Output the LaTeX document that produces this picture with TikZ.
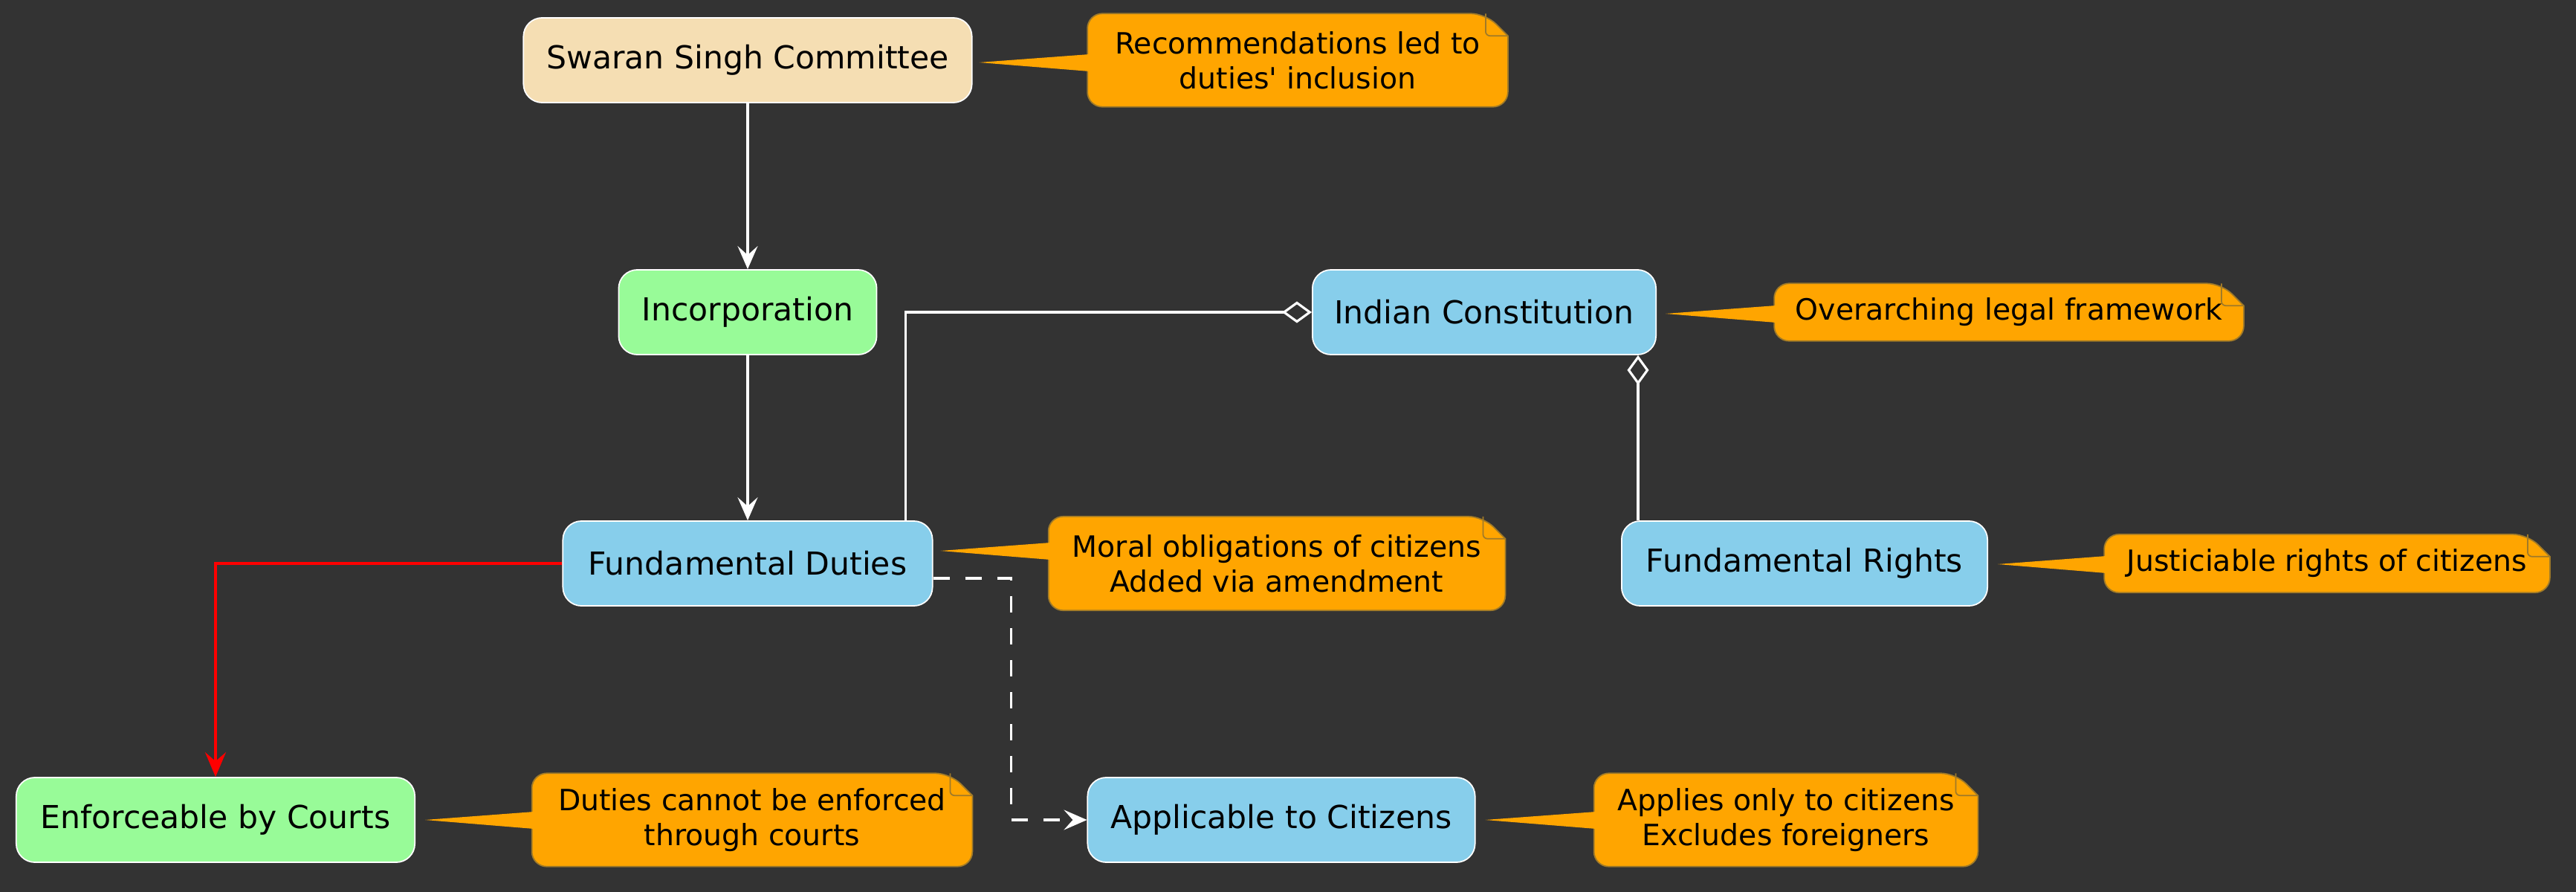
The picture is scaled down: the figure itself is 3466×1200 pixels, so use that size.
\documentclass[tikz,border=0pt]{standalone}
\usepackage{fontspec}
\setmainfont{DejaVu Sans}
\usetikzlibrary{arrows.meta,calc}
\definecolor{bgc}{HTML}{333333}
\definecolor{wheatc}{HTML}{F5DEB3}
\definecolor{greenc}{HTML}{98FB98}
\definecolor{bluec}{HTML}{87CEEB}
\definecolor{notec}{HTML}{FFA500}
\definecolor{noteedge}{HTML}{A07A28}
\definecolor{redc}{HTML}{FF0000}
\pgfdeclarelayer{back}\pgfdeclarelayer{mid}\pgfsetlayers{back,mid,main}
\tikzset{
 box/.style={draw=white, line width=0.5pt, rounded corners=0.25cm, minimum height=1.14cm, inner sep=0pt, font=\fontsize{12.1}{14.5}\selectfont, text=black},
 notetext/.style={inner sep=0pt, align=center, font=\fontsize{11.2}{13.4}\selectfont, text=black},
 noteshape/.style={fill=notec, draw=noteedge, line width=0.5pt},
 conn/.style={draw=white, line width=0.9pt},
 flow/.style={conn, -{Stealth[length=0.31cm,width=0.27cm,inset=0.12cm]}},
 redflow/.style={draw=redc, line width=1.1pt, -{Stealth[length=0.33cm,width=0.28cm,inset=0.12cm]}},
 dashflow/.style={conn, dash pattern=on 0.22cm off 0.21cm, -{Stealth[length=0.31cm,width=0.27cm,inset=0.12cm]}},
 agg/.style={conn, {Diamond[open,length=0.4cm,width=0.29cm]}-},
}
\newcommand\drawnote[2]{%
 \draw[noteshape] (#1.west)
   [rounded corners=0.2cm] -- (#1.north west) -- ($(#1.north east)+(-30,0)$)
   [sharp corners] -- ($(#1.north east)+(0,30)$)
   [rounded corners=0.2cm] -- (#1.south east) -- (#1.south west) [sharp corners] -- cycle;
 \draw[draw=noteedge, line width=0.5pt, rounded corners=0.06cm] ($(#1.north east)+(-30,0)$) -- ($(#1.north east)+(-30,30)$) -- ($(#1.north east)+(0,30)$);
 \fill[notec] ($(#1.west |- #2)+(3,12)$) -- (#2) -- ($(#1.west |- #2)+(3,-11)$) -- cycle;
}
\begin{document}
\begin{tikzpicture}[x=0.01cm,y=-0.01cm]
\begin{pgfonlayer}{back}
\fill[bgc] (0,0) rectangle (3466,1200);
\end{pgfonlayer}
\useasboundingbox (0,0) rectangle (3466,1200);

% main nodes
\node[box, fill=wheatc, minimum width=6.03cm] (swaran) at (1006,81) {Swaran Singh Committee};
\node[box, fill=greenc, minimum width=3.47cm] (incorp) at (1006,420) {Incorporation};
\node[box, fill=bluec, minimum width=4.97cm] (duties) at (1006,758) {Fundamental Duties};
\node[box, fill=bluec, minimum width=4.62cm] (ic) at (1997,420) {Indian Constitution};
\node[box, fill=bluec, minimum width=4.92cm] (rights) at (2428,758) {Fundamental Rights};
\node[box, fill=greenc, minimum width=5.36cm] (enforce) at (290,1103) {Enforceable by Courts};
\node[box, fill=bluec, minimum width=5.21cm] (applic) at (1724,1103) {Applicable to Citizens};

% notes
\node[notetext, minimum width=5.64cm, minimum height=1.24cm] (n1) at (1746,81) {Recommendations led to\\duties\textquotesingle{} inclusion};
\node[notetext, minimum width=6.30cm, minimum height=0.76cm] (n2) at (2703,420) {Overarching legal framework};
\node[notetext, minimum width=6.13cm, minimum height=1.25cm] (n3) at (1718,758) {Moral obligations of citizens\\Added via amendment};
\node[notetext, minimum width=5.98cm, minimum height=0.77cm] (n4) at (3131,758) {Justiciable rights of citizens};
\node[notetext, minimum width=5.91cm, minimum height=1.24cm] (n5) at (1012,1103) {Duties cannot be enforced\\through courts};
\node[notetext, minimum width=5.15cm, minimum height=1.24cm] (n6) at (2403,1103) {Applies only to citizens\\Excludes foreigners};

\coordinate (t1) at ($(swaran.east)+(9,3)$);
\coordinate (t2) at ($(ic.east)+(12,2)$);
\coordinate (t3) at ($(duties.east)+(10,-17)$);
\coordinate (t4) at ($(rights.east)+(13,1)$);
\coordinate (t5) at ($(enforce.east)+(13,0)$);
\coordinate (t6) at ($(applic.east)+(13,0)$);

\begin{pgfonlayer}{mid}
\drawnote{n1}{t1}
\drawnote{n2}{t2}
\drawnote{n3}{t3}
\drawnote{n4}{t4}
\drawnote{n5}{t5}
\drawnote{n6}{t6}
\end{pgfonlayer}

% connectors
\draw[flow] (swaran) -- (incorp);
\draw[flow] (incorp) -- (duties);
\coordinate (dtop) at ($(duties.north east)+(-37,0)$);
\draw[agg] (ic.west) -| (dtop);
\coordinate (rtop) at ($(rights.north west)+(23,0)$);
\draw[agg] (ic.south -| rtop) -- (rtop);
\draw[redflow] (duties.west) -| (enforce.north);
\coordinate (dstart) at ($(duties.east)+(0,20)$);
\draw[dashflow] (dstart) -- ++(105,0) |- (applic.west);
\end{tikzpicture}
\end{document}
